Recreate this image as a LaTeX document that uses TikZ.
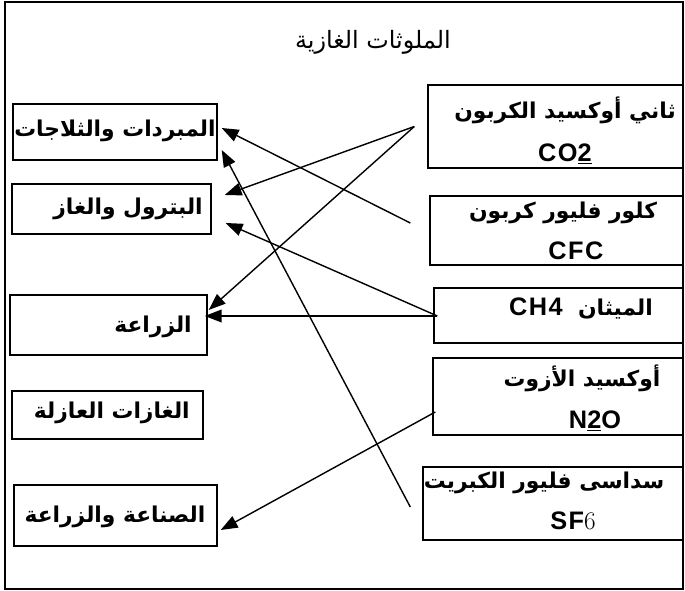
\documentclass[tikz,border=0pt]{standalone}
\usepackage{fontspec}
\setsansfont{Liberation Sans}
\newfontfamily\arabicfont[Script=Arabic]{DejaVu Sans}
\newfontfamily\widefont[LetterSpace=6]{Liberation Sans}
\TeXXeTstate=1
\usetikzlibrary{arrows.meta}
\usetikzlibrary{fit}

\begin{document}
\begin{tikzpicture}[x=0.025cm,y=-0.025cm,
    box/.style={draw, line width=1pt, inner sep=0pt, rectangle},
    link/.style={line width=1pt, -{Triangle[length=12pt,width=9pt]}},
    artext/.style={font=\arabicfont\bfseries\fontsize{15.5}{18}\selectfont, inner sep=0pt},
    latext/.style={font=\widefont\bfseries\fontsize{18}{20}\selectfont, inner sep=0pt}]
            \useasboundingbox (0,0) rectangle (685,591);
            
            % Outer frame and title
            \draw [line width=0.8pt] (5,2) rectangle (683,589);%
            \node [artext, font=\arabicfont\fontsize{17}{20}\selectfont] (title) at (373,42) {\beginR الملوثات الغازية\endR};%
            
            % Sources (left column)
            \node [box, fit={(13,104) (217,160)}] (cool) {};%
            \node [box, fit={(12,184) (211,234)}] (oil) {};%
            \node [box, fit={(10,295) (207,355)}] (farm) {};%
            \node [box, fit={(12,391) (203,439)}] (insul) {};%
            \node [box, fit={(14,485) (217,546)}] (ind) {};%
            \node [artext] (cooltxt) at (115,131) {\beginR المبردات والثلاجات\endR};%
            \node [artext, anchor=east] (oiltxt) at (203,209) {\beginR البترول والغاز\endR};%
            \node [artext, anchor=east] (farmtxt) at (192,327) {\beginR الزراعة\endR};%
            \node [artext, anchor=east] (insultxt) at (190,413) {\beginR الغازات العازلة\endR};%
            \node [artext] (indtxt) at (115,517) {\beginR الصناعة والزراعة\endR};%
            
            % Gases (right column)
            \node [box, fit={(428,85) (683,168)}] (co2) {};%
            \node [box, fit={(430,196) (683,265)}] (cfc) {};%
            \node [box, fit={(434,288) (683,343)}] (ch4) {};%
            \node [box, fit={(433,358) (683,435)}] (n2o) {};%
            \node [box, fit={(423,467) (683,540)}] (sf6) {};%
            \node [artext] (co2ar) at (565,110) {\beginR ثاني أوكسيد الكربون\endR};%
            \node [latext] (co2la) at (565,154) {CO\underline{2}};%
            \node [artext] (cfcar) at (563,213) {\beginR كلور فليور كربون\endR};%
            \node [latext] (cfcla) at (576,251) {CFC};%
            \node [artext] (ch4ar) at (581,308) {\beginR الميثان \ \beginL{\widefont\fontsize{18}{20}\selectfont CH4}\endL\endR};%
            \node [artext] (n2oar) at (582,378) {\beginR أوكسيد الأزوت\endR};%
            \node [latext] (n2ola) at (595,421) {N\underline{2}O};%
            \node [artext] (sf6ar) at (544,483) {\beginR سداسى فليور الكبريت\endR};%
            \node [latext] (sf6la) at (573,521) {SF{\mdseries\rmfamily 6}};%
            
            % Free ends of the links
            \coordinate (co2out) at ([shift={(-13,0)}]co2.west);%
            \coordinate (cfcout) at ([shift={(-19,-7.5)}]cfc.west);%
            \coordinate (ch4out) at ([shift={(4,0.5)}]ch4.west);%
            \coordinate (n2oout) at ([shift={(3,15.5)}]n2o.west);%
            \coordinate (sf6out) at ([shift={(-12,3.5)}]sf6.west);%
            
            % Drawing links
            \draw [link] (co2out) -- ([shift={(13,-14)}]oil.east);%
            \draw [link] (co2out) -- ([shift={(1,-15)}]farm.east);%
            \draw [link] (cfcout) -- ([shift={(4,-4)}]cool.east);%
            \draw [link] (ch4out) -- ([shift={(-3,-9)}]farm.east);%
            \draw [link] (ch4out) -- ([shift={(14,14)}]oil.east);%
            \draw [link] (sf6out) -- ([shift={(4,18)}]cool.east);%
            \draw [link] (n2oout) -- ([shift={(3,14.5)}]ind.east);%
\end{tikzpicture}
\end{document}
